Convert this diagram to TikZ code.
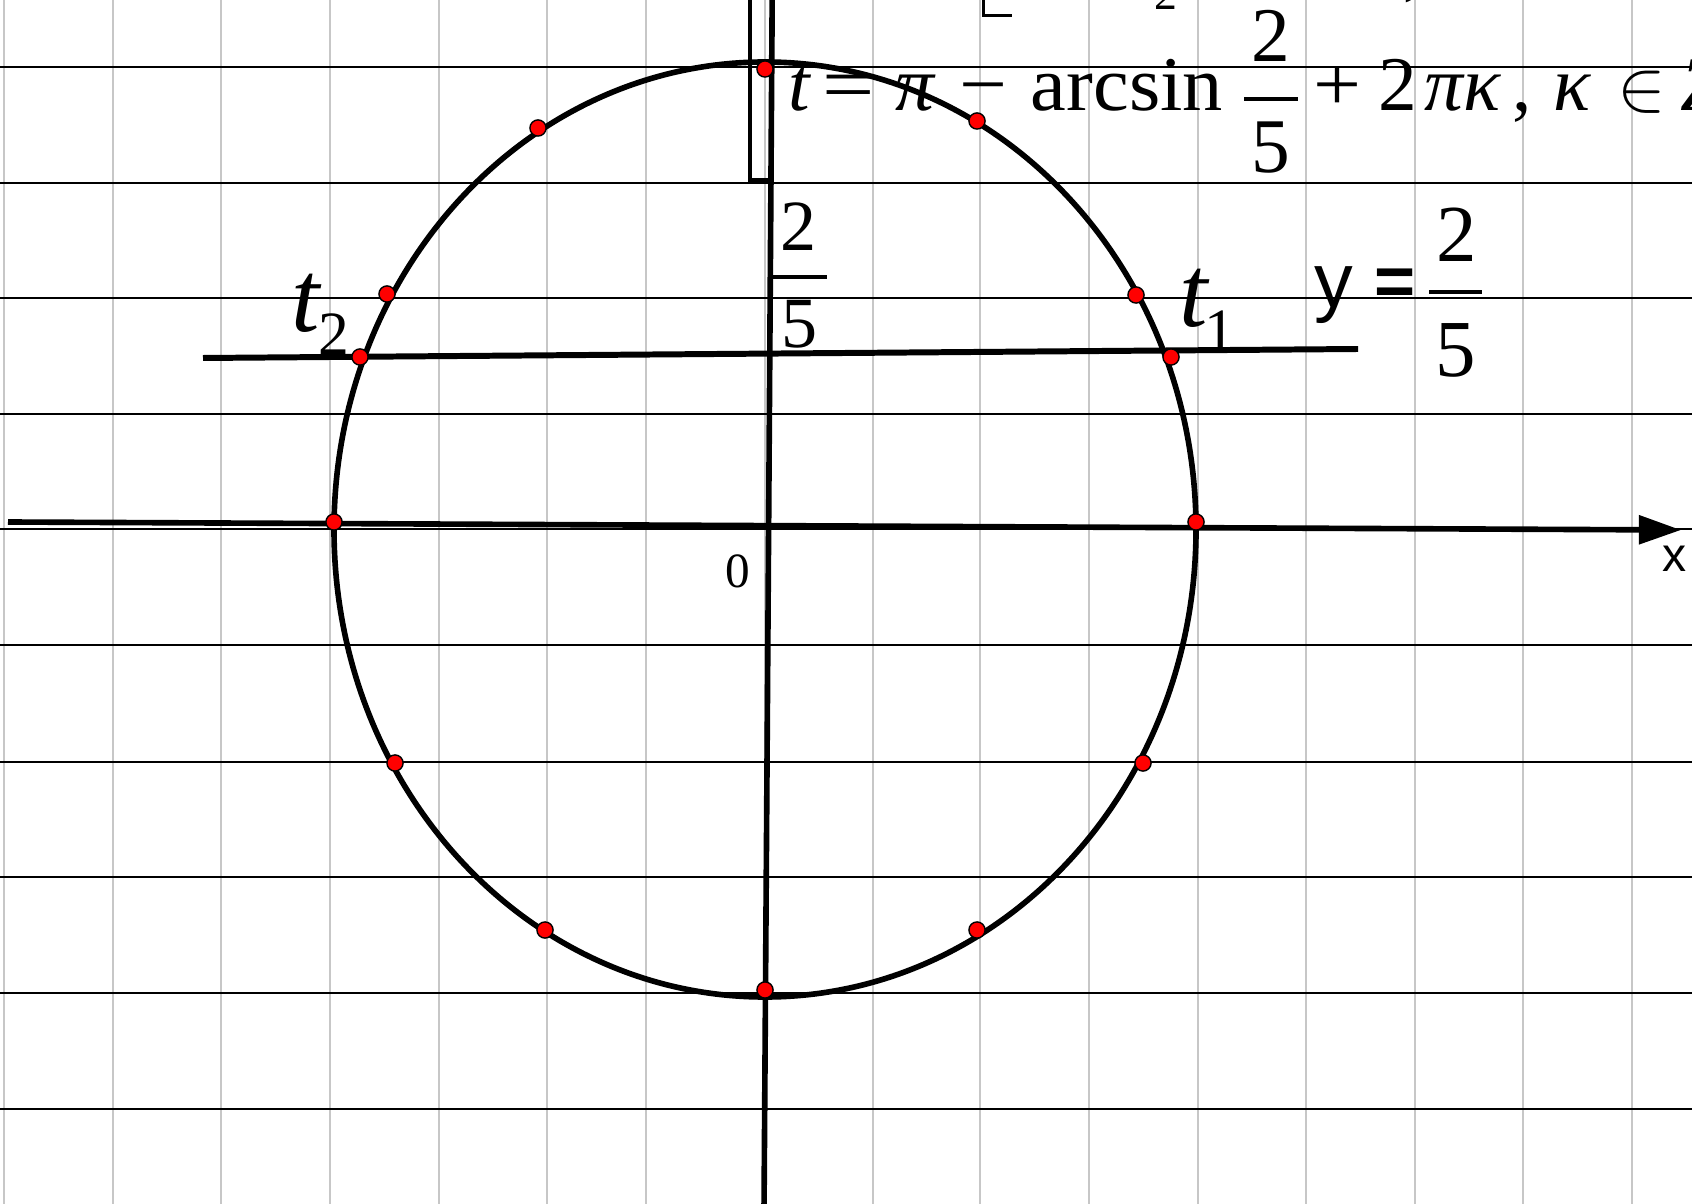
\documentclass[tikz,border=0pt]{standalone}
\usepackage{fontspec}
\setmainfont{Liberation Serif}
\setsansfont{Liberation Sans}
\usetikzlibrary{arrows.meta}
\newcommand\myfs[1]{\fontsize{#1}{#1}\selectfont}
\begin{document}
\begin{tikzpicture}[x=0.01cm,y=-0.01cm,
  gridv/.style={draw=black!22, line width=0.65pt},
  gridh/.style={draw=black, line width=0.65pt},
  heavy/.style={draw=black, line width=1.6pt},
  curve/.style={draw=black, line width=1.6pt},
  fracbar/.style={draw=black, line width=0.9pt},
  dot/.style={circle, fill=red, draw=black, line width=0.4pt, inner sep=0pt, minimum size=4.6pt},
  lbl/.style={anchor=base, inner sep=0pt, outer sep=0pt}]
\useasboundingbox (0,0) rectangle (1692,1204);
\clip (0,0) rectangle (1692,1204);
\fill[white] (0,0) rectangle (1692,1204);
% grid
\foreach \gx in {4,113,221,330,439,547,646,765,873,980,1089,1198,1306,1415,1523,1632}
  \draw[gridv] (\gx,0) -- (\gx,1204);
\foreach \gy in {67,183,298,414,529,645,762,877,993,1109}
  \draw[gridh] (0,\gy) -- (1692,\gy);
% unit circle (drawn as in the picture)
\draw[curve] (765,529.5) ellipse [x radius=431, y radius=467.5];
% axes
\coordinate (xl) at (8,522);
\coordinate (xr) at (1681,530);
\draw[heavy,-{Triangle[length=12pt,width=8pt]}] (xl) -- (xr);
\coordinate (yt) at (772.2,-5);
\coordinate (yb) at (764,1210);
\draw[heavy] (yt) -- (yb);
% line y = 2/5
\coordinate (la) at (203,358);
\coordinate (lb) at (1358,349);
\draw[heavy, line width=1.7pt] (la) -- (lb);
% rectangle at top of y axis
\draw[black, line width=1pt] (750,-5) rectangle (772,180);
% cut-off remnants at top
\draw[black, line width=0.8pt] (983.5,-5) -- (983.5,15.5) -- (1012,15.5);
\node[lbl, font=\myfs{13}] (r2) at (1166,10) {2};
\node[lbl, font=\myfs{21}] (rc) at (1413,-8) {,};
% points
\node[dot] (p90) at (765,69) {};
\node[dot] (p120) at (538,128) {};
\node[dot] (p60) at (977,121) {};
\node[dot] (p150) at (387,294) {};
\node[dot] (p30) at (1136,295) {};
\node[dot] (pt2) at (360,357) {};
\node[dot] (pt1) at (1171,357) {};
\node[dot] (p180) at (334,522) {};
\node[dot] (p0) at (1196,522) {};
\node[dot] (p210) at (395,763) {};
\node[dot] (p330) at (1143,763) {};
\node[dot] (p240) at (545,930) {};
\node[dot] (p300) at (977,930) {};
\node[dot] (p270) at (765,990) {};
% labels t1, t2
\node[lbl, font=\myfs{29}\itshape] (t2t) at (305.5,332) {t};
\node[lbl, font=\myfs{17.5}] (t2s) at (334,355) {2};
\node[lbl, font=\myfs{29}\itshape] (t1t) at (1193.5,327) {t};
\node[lbl, font=\myfs{17.5}] (t1s) at (1219.5,352) {1};
% 2/5 near the y axis
\node[lbl, font=\myfs{20.5}] (fa2) at (799,251) {2};
\draw[fracbar] (773,277) -- (827,277);
\node[lbl, font=\myfs{20.5}] (fa5) at (800,348) {5};
% origin, x
\node[lbl, font=\myfs{14}] (o) at (737.5,588) {0};
\node[lbl, font=\sffamily\myfs{13.7}] (xlab) at (1675,572) {x};
% y = 2/5
\node[lbl, font=\sffamily\myfs{22}] (ylab) at (1334,308) {y};
\node[lbl, font=\sffamily\bfseries\myfs{20}] (yeq) at (1395.5,306) {=};
\node[lbl, font=\myfs{23}] (fb2) at (1457,262) {2};
\draw[fracbar, line width=1.1pt] (1429,292) -- (1482,292);
\node[lbl, font=\myfs{23}] (fb5) at (1456,377) {5};
% top formula
\node[lbl, font=\myfs{22}\itshape] (ft) at (799.5,111) {t};
\node[lbl, font=\myfs{22}, xscale=1.2] (feq) at (849,111) {=};
\node[lbl, font=\myfs{22}\itshape] (fpi) at (915,111) {π};
\node[lbl, font=\myfs{22}, xscale=1.1] (fmin) at (983,111) {−};
\node[lbl, font=\myfs{22}, xscale=1.04] (farc) at (1127,111) {arcsin};
\node[lbl, font=\myfs{22}] (fn2) at (1271,62) {2};
\draw[fracbar] (1244,99) -- (1298,99);
\node[lbl, font=\myfs{22}] (fd5) at (1271,173) {5};
\node[lbl, font=\myfs{22}, xscale=1.1] (fplus) at (1337.5,111) {+};
\node[lbl, font=\myfs{22}] (f2) at (1397.5,111) {2};
\node[lbl, font=\myfs{22}\itshape] (fpk) at (1462.5,111) {πκ};
\node[lbl, font=\myfs{22}] (fcom) at (1522.5,111) {,};
\node[lbl, font=\myfs{22}\itshape] (fk) at (1572,111) {κ};
\node[lbl, font=\myfs{22}] (fin) at (1642,111) {$\in$};
\node[lbl, font=\myfs{22}\itshape, anchor=base west] (fZ) at (1680,111) {Z};
\end{tikzpicture}
\end{document}
